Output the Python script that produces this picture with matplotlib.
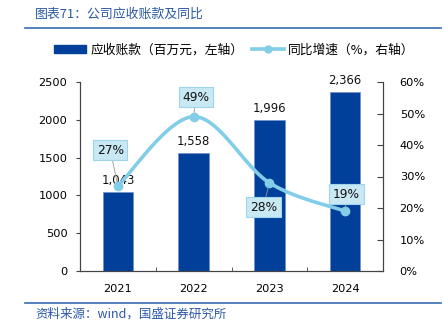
import numpy as np
import matplotlib.pyplot as plt
from matplotlib.lines import Line2D
from matplotlib.patches import Patch

plt.rcParams['font.family'] = ['Noto Sans CJK SC', 'DejaVu Sans']

years = ['2021', '2022', '2023', '2024']
receivables = [1043, 1558, 1996, 2366]
growth = [27, 49, 28, 19]
growth_labels = ['27%', '49%', '28%', '19%']
left_ticks = [0, 500, 1000, 1500, 2000, 2500]
right_ticks = [0, 10, 20, 30, 40, 50, 60]

bar_color = '#00409a'
line_color = '#82cde8'
title_color = '#2b58a6'

fig = plt.figure(figsize=(4.44, 3.28), dpi=100)
ax = fig.add_axes([80 / 444, 57 / 328, 303 / 444, 189 / 328])
ax2 = ax.twinx()

x = np.arange(len(years))
ax.bar(x, receivables, width=0.4, color=bar_color, edgecolor='#6f8fc8', linewidth=0.5, zorder=2)
for xi, v in zip(x, receivables):
    ax.annotate(f'{v:,}', (xi, v), xytext=(0, 4), textcoords='offset points',
                ha='center', va='bottom', fontsize=8.4, color='#111111', family='DejaVu Sans')

ax.set_xlim(-0.5, len(years) - 0.5)
ax.set_ylim(0, 2500)
ax.set_yticks(left_ticks)
ax.set_yticklabels([str(t) for t in left_ticks], family='DejaVu Sans', fontsize=8.2)
ax.set_xticks(x)
ax.set_xticklabels(years, family='DejaVu Sans', fontsize=8.2)
ax.tick_params(axis='x', which='major', length=0, pad=9)
ax.set_xticks([0.5, 1.5, 2.5], minor=True)
ax.tick_params(axis='x', which='minor', direction='in', length=3, color='#444444')
ax.tick_params(axis='y', direction='out', length=3, color='#444444', pad=6)

# smoothed line (Excel-like bezier)
pts = np.column_stack([x, growth]).astype(float)
ext = np.vstack([pts[0], pts, pts[-1]])
curve = []
t = np.linspace(0, 1, 40)
for i in range(len(pts) - 1):
    p0, p1, p2, p3 = ext[i], ext[i + 1], ext[i + 2], ext[i + 3]
    c1 = p1 + (p2 - p0) / 6
    c2 = p2 - (p3 - p1) / 6
    seg = ((1 - t) ** 3)[:, None] * p1 + (3 * (1 - t) ** 2 * t)[:, None] * c1 \
        + (3 * (1 - t) * t ** 2)[:, None] * c2 + (t ** 3)[:, None] * p2
    curve.append(seg)
curve = np.vstack(curve)
ax2.plot(curve[:, 0], curve[:, 1], color=line_color, lw=2.6, zorder=3)
ax2.plot(x, growth, 'o', color=line_color, ms=6, zorder=4)

ax2.set_ylim(0, 60)
ax2.set_yticks(right_ticks)
ax2.set_yticklabels([f'{t}%' for t in right_ticks], family='DejaVu Sans', fontsize=8.2)
ax2.tick_params(axis='y', direction='in', length=4, color='#444444', pad=12)

# label offsets from each point (x in categories, y in %)
label_offsets = [(-0.10, 11.4), (0.03, 6.2), (-0.08, -7.7), (0.02, 5.4)]
for xi, g, lab, (dx, dy) in zip(x, growth, growth_labels, label_offsets):
    ax2.annotate(lab, (xi, g), xytext=(xi + dx, g + dy), textcoords='data', ha='center',
                 va='center', fontsize=8.8, color='#111111', family='DejaVu Sans', zorder=6,
                 bbox=dict(boxstyle='square,pad=0.3', fc='#c8e8f4', ec='#9ed5ec', lw=0.8),
                 arrowprops=dict(arrowstyle='-', color='#999999', lw=0.6, shrinkA=0, shrinkB=3))

for a in (ax, ax2):
    a.spines['top'].set_visible(False)
    for s in ('left', 'right', 'bottom'):
        a.spines[s].set_color('#444444')
        a.spines[s].set_linewidth(0.8)

handles = [Patch(color=bar_color),
           Line2D([0], [0], color=line_color, lw=2.6, marker='o', ms=5)]
fig.legend(handles, ['应收账款（百万元，左轴）', '同比增速（%，右轴）'],
           loc='center', bbox_to_anchor=(0.528, 1 - 50 / 328), ncol=2, frameon=False,
           fontsize=9.2, handlelength=2.5, handleheight=0.55, columnspacing=0.7,
           handletextpad=0.3)

fig.text(35 / 444, 1 - 14 / 328, '图表71：公司应收账款及同比', color=title_color,
         fontsize=9.3, va='center', ha='left')
fig.add_artist(Line2D([25 / 444, 441 / 444], [1 - 28 / 328] * 2, color='#3a6cb4', lw=1.2))
fig.add_artist(Line2D([25 / 444, 441 / 444], [1 - 303 / 328] * 2, color='#3a6cb4', lw=1.2))
fig.text(35 / 444, 1 - 314 / 328, '资料来源：wind，国盛证券研究所', color=title_color,
         fontsize=9.0, va='center', ha='left')

fig.savefig('out.png', dpi=100)
